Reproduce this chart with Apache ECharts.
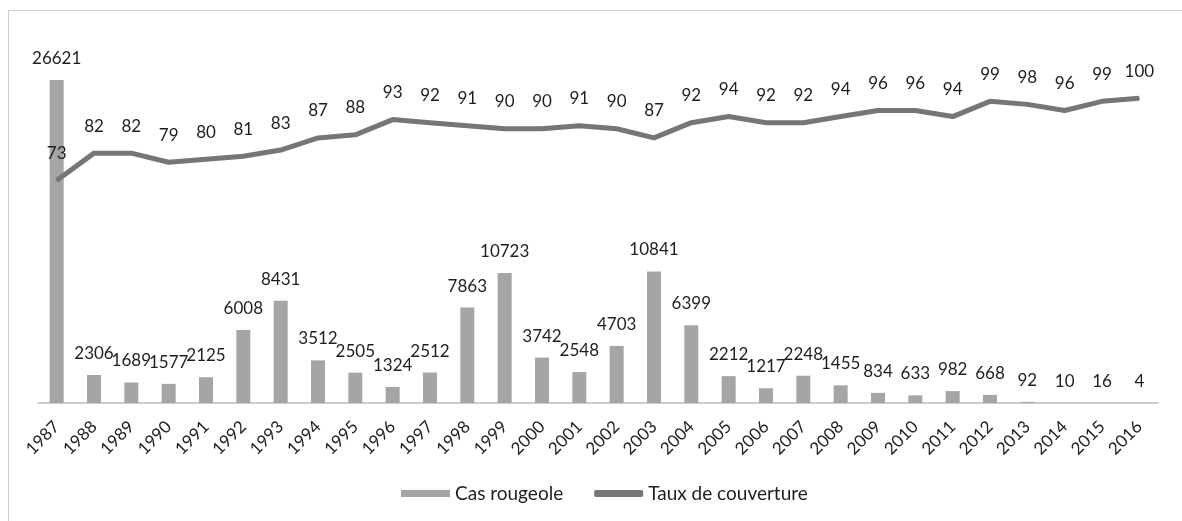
<!DOCTYPE html>
<html>
<head>
<meta charset="utf-8">
<script src="https://cdn.jsdelivr.net/npm/echarts@6/dist/echarts.min.js"></script>
<style>
  html, body { margin: 0; padding: 0; background: #fff; }
  #frame {
    position: absolute; left: 8px; top: 10px; width: 1200px; height: 540px;
    border-left: 1px solid #cfcfcf; border-top: 1px solid #cfcfcf;
  }
  #chart { position: absolute; left: 0; top: 0; width: 1182px; height: 521px; }
</style>
</head>
<body>
<div id="frame"></div>
<div id="chart"></div>
<script>
const years = ['1987', '1988', '1989', '1990', '1991', '1992', '1993', '1994', '1995', '1996',
  '1997', '1998', '1999', '2000', '2001', '2002', '2003', '2004', '2005', '2006',
  '2007', '2008', '2009', '2010', '2011', '2012', '2013', '2014', '2015', '2016']
const casRougeole = [26621, 2306, 1689, 1577, 2125, 6008, 8431, 3512, 2505, 1324,
  2512, 7863, 10723, 3742, 2548, 4703, 10841, 6399, 2212, 1217,
  2248, 1455, 834, 633, 982, 668, 92, 10, 16, 4]
const tauxCouverture = [73, 82, 82, 79, 80, 81, 83, 87, 88, 93,
  92, 91, 90, 90, 91, 90, 87, 92, 94, 92,
  92, 94, 96, 96, 94, 99, 98, 96, 99, 100]

const font = 'Lato, "Open Sans", sans-serif'
const textColor = '#1e1e1e'

let myChart = echarts.init(document.getElementById('chart'))
let option = {
  animation: false,
  textStyle: { fontFamily: font },
  grid: { left: 38, right: 24, top: 80, bottom: 118 },
  legend: {
    left: 396,
    top: 479,
    itemWidth: 49,
    itemHeight: 7,
    itemGap: 31,
    textStyle: { fontSize: 19, color: textColor, fontFamily: font },
    data: [
      { name: 'Cas rougeole', icon: 'rect' },
      { name: 'Taux de couverture', icon: 'roundRect' },
    ],
  },
  xAxis: {
    type: 'category',
    data: years,
    axisLine: { lineStyle: { color: '#bdbdbd', width: 1.5 } },
    axisTick: { length: 5, lineStyle: { color: '#bdbdbd' } },
    axisLabel: { rotate: 45, fontSize: 17, color: textColor, margin: 21 },
  },
  yAxis: [
    { type: 'value', min: 0, max: 26621, show: false, splitLine: { show: false } },
    { type: 'value', min: 0, max: 106, show: false, splitLine: { show: false } },
  ],
  series: [
    {
      name: 'Cas rougeole',
      type: 'bar',
      yAxisIndex: 0,
      barWidth: 14,
      data: casRougeole,
      itemStyle: { color: '#a5a5a5' },
      label: { show: true, position: 'top', distance: 13, fontSize: 17, color: textColor },
    },
    {
      name: 'Taux de couverture',
      type: 'line',
      yAxisIndex: 1,
      data: tauxCouverture,
      symbol: 'circle',
      symbolSize: 1,
      showSymbol: true,
      lineStyle: { color: '#767676', width: 5 },
      itemStyle: { color: '#767676' },
      label: { show: true, position: 'top', distance: 18, fontSize: 17, color: textColor },
    },
  ],
}
option && myChart.setOption(option)
</script>
</body>
</html>
